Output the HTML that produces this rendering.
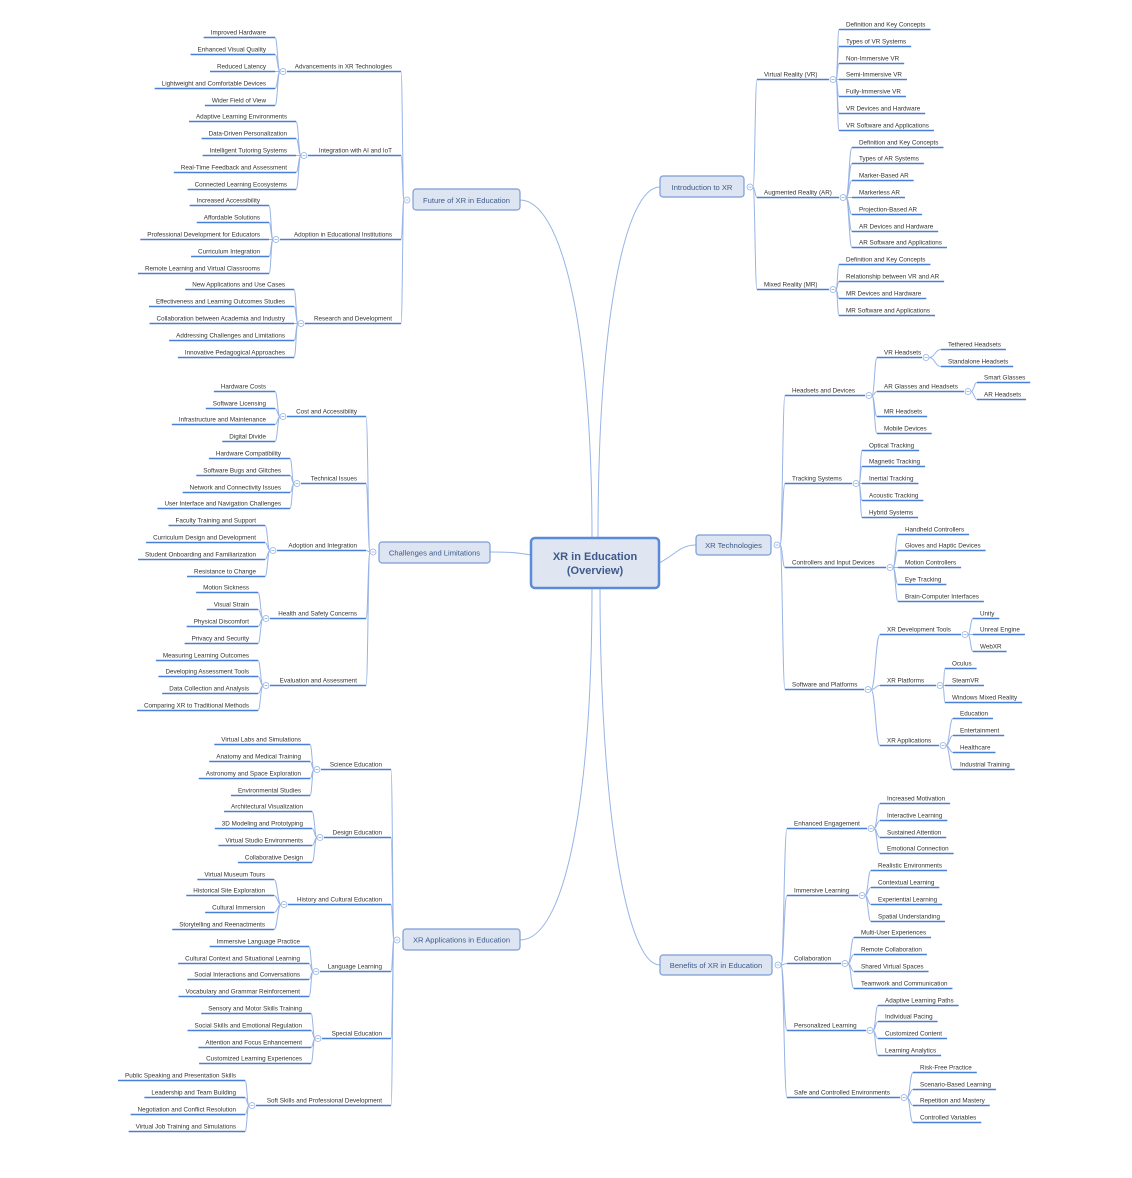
<!DOCTYPE html>
<html><head><meta charset="utf-8">
<style>
html,body{margin:0;padding:0;background:#fff;}
svg{display:block;font-family:"Liberation Sans",sans-serif;}
text{font-size:6.3px;fill:#333;}
.L text{text-anchor:end;}
.mt,.L text.mt,.R text.mt{font-size:7.6px;fill:#3d5a8a;text-anchor:middle;}
.ct{font-size:11px;font-weight:bold;fill:#3d5a8a;text-anchor:middle;}
</style></head><body>
<svg id="s" width="1132" height="1178" viewBox="0 0 1132 1178" xmlns="http://www.w3.org/2000/svg">
<g id="conn" fill="none" stroke="#98b4e6" stroke-width="1"></g>
<g id="ul" stroke="#4a7fd6" stroke-width="1.4"></g>
<g id="circ"></g>

<!-- center -->
<rect x="531" y="538" width="128" height="50" rx="4" fill="#dfe6f2" stroke="#5b8ad6" stroke-width="2.5"/>
<text class="ct" x="595" y="560">XR in Education</text>
<text class="ct" x="595" y="574">(Overview)</text>

<!-- RIGHT: Introduction -->
<g class="main R" data-cx="750" data-cy="187" data-bx="660" data-by="176" data-bw="84" data-bh="21">
<text class="mt" x="702" y="190">Introduction to XR</text>
<g class="n" data-cx="833"><text x="764" y="76.5">Virtual Reality (VR)</text>
 <g class="n"><text x="846" y="26.5">Definition and Key Concepts</text></g>
 <g class="n"><text x="846" y="43.5">Types of VR Systems</text></g>
 <g class="n"><text x="846" y="60.5">Non-Immersive VR</text></g>
 <g class="n"><text x="846" y="76.5">Semi-Immersive VR</text></g>
 <g class="n"><text x="846" y="93.5">Fully-Immersive VR</text></g>
 <g class="n"><text x="846" y="110.5">VR Devices and Hardware</text></g>
 <g class="n"><text x="846" y="127.5">VR Software and Applications</text></g>
</g>
<g class="n" data-cx="843"><text x="764" y="194.5">Augmented Reality (AR)</text>
 <g class="n"><text x="859" y="144.5">Definition and Key Concepts</text></g>
 <g class="n"><text x="859" y="160.5">Types of AR Systems</text></g>
 <g class="n"><text x="859" y="177.5">Marker-Based AR</text></g>
 <g class="n"><text x="859" y="194.5">Markerless AR</text></g>
 <g class="n"><text x="859" y="211.5">Projection-Based AR</text></g>
 <g class="n"><text x="859" y="228.5">AR Devices and Hardware</text></g>
 <g class="n"><text x="859" y="244.5">AR Software and Applications</text></g>
</g>
<g class="n" data-cx="833"><text x="764" y="286.5">Mixed Reality (MR)</text>
 <g class="n"><text x="846" y="261.5">Definition and Key Concepts</text></g>
 <g class="n"><text x="846" y="278.5">Relationship between VR and AR</text></g>
 <g class="n"><text x="846" y="295.5">MR Devices and Hardware</text></g>
 <g class="n"><text x="846" y="312.5">MR Software and Applications</text></g>
</g>
</g>

<!-- RIGHT: XR Technologies -->
<g class="main R" data-cx="777" data-cy="545" data-bx="696" data-by="535" data-bw="75" data-bh="20">
<text class="mt" x="733.5" y="548">XR Technologies</text>
<g class="n" data-cx="869"><text x="792" y="392.5">Headsets and Devices</text>
 <g class="n" data-cx="926"><text x="884" y="354.5">VR Headsets</text>
  <g class="n"><text x="948" y="346.5">Tethered Headsets</text></g>
  <g class="n"><text x="948" y="363.5">Standalone Headsets</text></g>
 </g>
 <g class="n" data-cx="968"><text x="884" y="388.5">AR Glasses and Headsets</text>
  <g class="n"><text x="984" y="379.5">Smart Glasses</text></g>
  <g class="n"><text x="984" y="396.5">AR Headsets</text></g>
 </g>
 <g class="n"><text x="884" y="413.5">MR Headsets</text></g>
 <g class="n"><text x="884" y="430.5">Mobile Devices</text></g>
</g>
<g class="n" data-cx="856"><text x="792" y="480.5">Tracking Systems</text>
 <g class="n"><text x="869" y="447.5">Optical Tracking</text></g>
 <g class="n"><text x="869" y="463.5">Magnetic Tracking</text></g>
 <g class="n"><text x="869" y="480.5">Inertial Tracking</text></g>
 <g class="n"><text x="869" y="497.5">Acoustic Tracking</text></g>
 <g class="n"><text x="869" y="514.5">Hybrid Systems</text></g>
</g>
<g class="n" data-cx="890"><text x="792" y="564.5">Controllers and Input Devices</text>
 <g class="n"><text x="905" y="531.5">Handheld Controllers</text></g>
 <g class="n"><text x="905" y="547.5">Gloves and Haptic Devices</text></g>
 <g class="n"><text x="905" y="564.5">Motion Controllers</text></g>
 <g class="n"><text x="905" y="581.5">Eye Tracking</text></g>
 <g class="n"><text x="905" y="598.5">Brain-Computer Interfaces</text></g>
</g>
<g class="n" data-cx="868"><text x="792" y="686.5">Software and Platforms</text>
 <g class="n" data-cx="965"><text x="887" y="631.5">XR Development Tools</text>
  <g class="n"><text x="980" y="615.5">Unity</text></g>
  <g class="n"><text x="980" y="631.5">Unreal Engine</text></g>
  <g class="n"><text x="980" y="648.5">WebXR</text></g>
 </g>
 <g class="n" data-cx="940"><text x="887" y="682.5">XR Platforms</text>
  <g class="n"><text x="952" y="665.5">Oculus</text></g>
  <g class="n"><text x="952" y="682.5">SteamVR</text></g>
  <g class="n"><text x="952" y="699.5">Windows Mixed Reality</text></g>
 </g>
 <g class="n" data-cx="943"><text x="887" y="742.5">XR Applications</text>
  <g class="n"><text x="960" y="715.5">Education</text></g>
  <g class="n"><text x="960" y="732.5">Entertainment</text></g>
  <g class="n"><text x="960" y="749.5">Healthcare</text></g>
  <g class="n"><text x="960" y="766.5">Industrial Training</text></g>
 </g>
</g>
</g>

<!-- RIGHT: Benefits -->
<g class="main R" data-cx="778" data-cy="965" data-bx="660" data-by="955" data-bw="112" data-bh="20">
<text class="mt" x="716" y="968">Benefits of XR in Education</text>
<g class="n" data-cx="871"><text x="794" y="825.5">Enhanced Engagement</text>
 <g class="n"><text x="887" y="800.5">Increased Motivation</text></g>
 <g class="n"><text x="887" y="817.5">Interactive Learning</text></g>
 <g class="n"><text x="887" y="834.5">Sustained Attention</text></g>
 <g class="n"><text x="887" y="850.5">Emotional Connection</text></g>
</g>
<g class="n" data-cx="862"><text x="794" y="892.5">Immersive Learning</text>
 <g class="n"><text x="878" y="867.5">Realistic Environments</text></g>
 <g class="n"><text x="878" y="884.5">Contextual Learning</text></g>
 <g class="n"><text x="878" y="901.5">Experiential Learning</text></g>
 <g class="n"><text x="878" y="918.5">Spatial Understanding</text></g>
</g>
<g class="n" data-cx="845"><text x="794" y="960.5">Collaboration</text>
 <g class="n"><text x="861" y="934.5">Multi-User Experiences</text></g>
 <g class="n"><text x="861" y="951.5">Remote Collaboration</text></g>
 <g class="n"><text x="861" y="968.5">Shared Virtual Spaces</text></g>
 <g class="n"><text x="861" y="985.5">Teamwork and Communication</text></g>
</g>
<g class="n" data-cx="870"><text x="794" y="1027.5">Personalized Learning</text>
 <g class="n"><text x="885" y="1002.5">Adaptive Learning Paths</text></g>
 <g class="n"><text x="885" y="1018.5">Individual Pacing</text></g>
 <g class="n"><text x="885" y="1035.5">Customized Content</text></g>
 <g class="n"><text x="885" y="1052.5">Learning Analytics</text></g>
</g>
<g class="n" data-cx="904"><text x="794" y="1094.5">Safe and Controlled Environments</text>
 <g class="n"><text x="920" y="1069.5">Risk-Free Practice</text></g>
 <g class="n"><text x="920" y="1086.5">Scenario-Based Learning</text></g>
 <g class="n"><text x="920" y="1102.5">Repetition and Mastery</text></g>
 <g class="n"><text x="920" y="1119.5">Controlled Variables</text></g>
</g>
</g>

<!-- LEFT: Future -->
<g class="main L" data-cx="407" data-cy="200" data-bx="413" data-by="189" data-bw="107" data-bh="21">
<text class="mt" x="466.5" y="203">Future of XR in Education</text>
<g class="n" data-cx="283"><text x="392" y="68.5">Advancements in XR Technologies</text>
 <g class="n"><text x="266" y="34.5">Improved Hardware</text></g>
 <g class="n"><text x="266" y="51.5">Enhanced Visual Quality</text></g>
 <g class="n"><text x="266" y="68.5">Reduced Latency</text></g>
 <g class="n"><text x="266" y="85.5">Lightweight and Comfortable Devices</text></g>
 <g class="n"><text x="266" y="102.5">Wider Field of View</text></g>
</g>
<g class="n" data-cx="304"><text x="392" y="152.5">Integration with AI and IoT</text>
 <g class="n"><text x="287" y="118.5">Adaptive Learning Environments</text></g>
 <g class="n"><text x="287" y="135.5">Data-Driven Personalization</text></g>
 <g class="n"><text x="287" y="152.5">Intelligent Tutoring Systems</text></g>
 <g class="n"><text x="287" y="169.5">Real-Time Feedback and Assessment</text></g>
 <g class="n"><text x="287" y="186.5">Connected Learning Ecosystems</text></g>
</g>
<g class="n" data-cx="276"><text x="392" y="236.5">Adoption in Educational Institutions</text>
 <g class="n"><text x="260" y="202.5">Increased Accessibility</text></g>
 <g class="n"><text x="260" y="219.5">Affordable Solutions</text></g>
 <g class="n"><text x="260" y="236.5">Professional Development for Educators</text></g>
 <g class="n"><text x="260" y="253.5">Curriculum Integration</text></g>
 <g class="n"><text x="260" y="270.5">Remote Learning and Virtual Classrooms</text></g>
</g>
<g class="n" data-cx="301"><text x="392" y="320.5">Research and Development</text>
 <g class="n"><text x="285" y="286.5">New Applications and Use Cases</text></g>
 <g class="n"><text x="285" y="303.5">Effectiveness and Learning Outcomes Studies</text></g>
 <g class="n"><text x="285" y="320.5">Collaboration between Academia and Industry</text></g>
 <g class="n"><text x="285" y="337.5">Addressing Challenges and Limitations</text></g>
 <g class="n"><text x="285" y="354.5">Innovative Pedagogical Approaches</text></g>
</g>
</g>

<!-- LEFT: Challenges -->
<g class="main L" data-cx="373" data-cy="552" data-bx="379" data-by="542" data-bw="111" data-bh="21">
<text class="mt" x="434.5" y="555.5">Challenges and Limitations</text>
<g class="n" data-cx="283"><text x="357" y="413.5">Cost and Accessibility</text>
 <g class="n"><text x="266" y="388.5">Hardware Costs</text></g>
 <g class="n"><text x="266" y="405.5">Software Licensing</text></g>
 <g class="n"><text x="266" y="421.5">Infrastructure and Maintenance</text></g>
 <g class="n"><text x="266" y="438.5">Digital Divide</text></g>
</g>
<g class="n" data-cx="297"><text x="357" y="480.5">Technical Issues</text>
 <g class="n"><text x="281" y="455.5">Hardware Compatibility</text></g>
 <g class="n"><text x="281" y="472.5">Software Bugs and Glitches</text></g>
 <g class="n"><text x="281" y="489.5">Network and Connectivity Issues</text></g>
 <g class="n"><text x="281" y="505.5">User Interface and Navigation Challenges</text></g>
</g>
<g class="n" data-cx="273"><text x="357" y="547.5">Adoption and Integration</text>
 <g class="n"><text x="256" y="522.5">Faculty Training and Support</text></g>
 <g class="n"><text x="256" y="539.5">Curriculum Design and Development</text></g>
 <g class="n"><text x="256" y="556.5">Student Onboarding and Familiarization</text></g>
 <g class="n"><text x="256" y="573.5">Resistance to Change</text></g>
</g>
<g class="n" data-cx="266"><text x="357" y="615.5">Health and Safety Concerns</text>
 <g class="n"><text x="249" y="589.5">Motion Sickness</text></g>
 <g class="n"><text x="249" y="606.5">Visual Strain</text></g>
 <g class="n"><text x="249" y="623.5">Physical Discomfort</text></g>
 <g class="n"><text x="249" y="640.5">Privacy and Security</text></g>
</g>
<g class="n" data-cx="266"><text x="357" y="682.5">Evaluation and Assessment</text>
 <g class="n"><text x="249" y="657.5">Measuring Learning Outcomes</text></g>
 <g class="n"><text x="249" y="673.5">Developing Assessment Tools</text></g>
 <g class="n"><text x="249" y="690.5">Data Collection and Analysis</text></g>
 <g class="n"><text x="249" y="707.5">Comparing XR to Traditional Methods</text></g>
</g>
</g>

<!-- LEFT: Applications -->
<g class="main L" data-cx="397" data-cy="940" data-bx="403" data-by="929" data-bw="117" data-bh="21">
<text class="mt" x="461.5" y="942.5">XR Applications in Education</text>
<g class="n" data-cx="317"><text x="382" y="766.5">Science Education</text>
 <g class="n"><text x="301" y="741.5">Virtual Labs and Simulations</text></g>
 <g class="n"><text x="301" y="758.5">Anatomy and Medical Training</text></g>
 <g class="n"><text x="301" y="775.5">Astronomy and Space Exploration</text></g>
 <g class="n"><text x="301" y="792.5">Environmental Studies</text></g>
</g>
<g class="n" data-cx="320"><text x="382" y="834.5">Design Education</text>
 <g class="n"><text x="303" y="808.5">Architectural Visualization</text></g>
 <g class="n"><text x="303" y="825.5">3D Modeling and Prototyping</text></g>
 <g class="n"><text x="303" y="842.5">Virtual Studio Environments</text></g>
 <g class="n"><text x="303" y="859.5">Collaborative Design</text></g>
</g>
<g class="n" data-cx="284"><text x="382" y="901.5">History and Cultural Education</text>
 <g class="n"><text x="265" y="876.5">Virtual Museum Tours</text></g>
 <g class="n"><text x="265" y="892.5">Historical Site Exploration</text></g>
 <g class="n"><text x="265" y="909.5">Cultural Immersion</text></g>
 <g class="n"><text x="265" y="926.5">Storytelling and Reenactments</text></g>
</g>
<g class="n" data-cx="316"><text x="382" y="968.5">Language Learning</text>
 <g class="n"><text x="300" y="943.5">Immersive Language Practice</text></g>
 <g class="n"><text x="300" y="960.5">Cultural Context and Situational Learning</text></g>
 <g class="n"><text x="300" y="976.5">Social Interactions and Conversations</text></g>
 <g class="n"><text x="300" y="993.5">Vocabulary and Grammar Reinforcement</text></g>
</g>
<g class="n" data-cx="318"><text x="382" y="1035.5">Special Education</text>
 <g class="n"><text x="302" y="1010.5">Sensory and Motor Skills Training</text></g>
 <g class="n"><text x="302" y="1027.5">Social Skills and Emotional Regulation</text></g>
 <g class="n"><text x="302" y="1044.5">Attention and Focus Enhancement</text></g>
 <g class="n"><text x="302" y="1060.5">Customized Learning Experiences</text></g>
</g>
<g class="n" data-cx="252"><text x="382" y="1102.5">Soft Skills and Professional Development</text>
 <g class="n"><text x="236" y="1077.5">Public Speaking and Presentation Skills</text></g>
 <g class="n"><text x="236" y="1094.5">Leadership and Team Building</text></g>
 <g class="n"><text x="236" y="1111.5">Negotiation and Conflict Resolution</text></g>
 <g class="n"><text x="236" y="1128.5">Virtual Job Training and Simulations</text></g>
</g>
</g>
</svg>
<script>
(function(){
var NS="http://www.w3.org/2000/svg";
var conn=document.getElementById('conn'),ul=document.getElementById('ul'),circ=document.getElementById('circ');
function el(p,n,a){var e=document.createElementNS(NS,n);for(var k in a)e.setAttribute(k,a[k]);p.appendChild(e);return e;}
function curve(x1,y1,x2,y2){var m=(x1+x2)/2;el(conn,'path',{d:'M'+x1+','+y1+' C'+m+','+y1+' '+m+','+y2+' '+x2+','+y2});}
function circle(x,y){var g=el(circ,'g',{});el(g,'circle',{cx:x,cy:y,r:3,fill:'#fff',stroke:'#8fb0e6','stroke-width':0.8});el(g,'line',{x1:x-1.5,y1:y,x2:x+1.5,y2:y,stroke:'#8fb0e6','stroke-width':0.8});}
function proc(g,side){
 var t=g.querySelector(':scope>text');var tx=+t.getAttribute('x'),uy=+t.getAttribute('y')+3;
 var w=t.getComputedTextLength();
 var kids=g.querySelectorAll(':scope>g.n');var x0,x1;
 if(side=='R'){x0=tx-7;
  if(kids.length){var cx=+g.dataset.cx;x1=cx-4;circle(cx,uy);
   kids.forEach(function(k){var p=proc(k,side);curve(cx+3,uy,p[0],p[1]);});}
  else x1=tx+w+5;
 }else{x0=tx+9;
  if(kids.length){var cx=+g.dataset.cx;x1=cx+4;circle(cx,uy);
   kids.forEach(function(k){var p=proc(k,side);curve(cx-3,uy,p[0],p[1]);});}
  else x1=tx-w-7;
 }
 el(ul,'line',{x1:x0,y1:uy,x2:x1,y2:uy});
 return [x0,uy];
}
var s=document.getElementById('s');
document.querySelectorAll('g.main').forEach(function(m){
 var side=m.classList.contains('R')?'R':'L';
 var d=m.dataset;var bx=+d.bx,by=+d.by,bw=+d.bw,bh=+d.bh,cx=+d.cx,cy=+d.cy;
 var r=document.createElementNS(NS,'rect');
 var a={x:bx,y:by,width:bw,height:bh,rx:3,fill:'#dde5f2',stroke:'#7c9cd6','stroke-width':1.2};
 for(var k in a)r.setAttribute(k,a[k]);
 s.insertBefore(r,m);
 circle(cx,cy);
 m.querySelectorAll(':scope>g.n').forEach(function(k){var p=proc(k,side);curve(side=='R'?cx+3:cx-3,cy,p[0],p[1]);});
});
var c=['M598,538 C598,320 625,187 660,187','M592,538 C592,320 560,200 520,200','M659,563 C675,555 680,545 696,545','M531,555 C515,552 505,552 490,552','M592,588 C592,800 565,940 520,940','M600,588 C600,800 625,965 660,965'];
c.forEach(function(d){el(conn,'path',{d:d});});
})();
</script>
</body></html>
